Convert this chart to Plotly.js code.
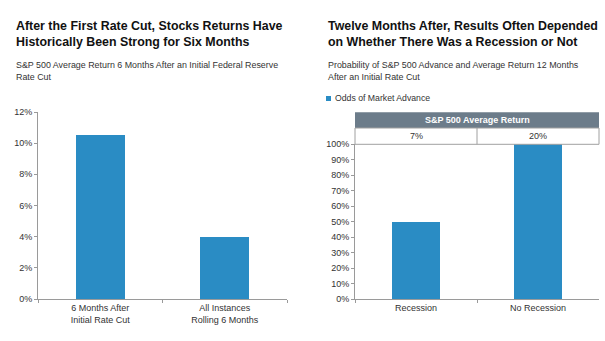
<!DOCTYPE html>
<html>
<head>
<meta charset="utf-8">
<script src="https://cdn.plot.ly/plotly-3.0.1.min.js"></script>
<style>html,body{margin:0;padding:0;background:#fff}#chart{width:605px;height:341px}</style>
</head>
<body>
<div id="chart"></div>
<script>
// ---- data ----
const leftCategories = ["6 Months After<br>Initial Rate Cut", "All Instances<br>Rolling 6 Months"];
const leftValues = [0.1055, 0.040];
const rightCategories = ["Recession", "No Recession"];
const rightValues = [0.50, 1.00];
const avgReturnLabels = ["7%", "20%"];
const rightSeriesName = "Odds of Market Advance";
const tableHeader = "S&P 500 Average Return";
const leftTitle = "After the First Rate Cut, Stocks Returns Have<br>Historically Been Strong for Six Months";
const leftSubtitle = "S&P 500 Average Return 6 Months After an Initial Federal Reserve<br>Rate Cut";
const rightTitle = "Twelve Months After, Results Often Depended<br>on Whether There Was a Recession or Not";
const rightSubtitle = "Probability of S&P 500 Advance and Average Return 12 Months<br>After an Initial Rate Cut";

// ---- layout helpers ----
const W = 605, H = 341;
const px = x => x / W;
const py = y => 1 - y / H;
const FONT = "Liberation Sans, Arial, sans-serif";
const BAR = "#2a8cc4";
const AXIS = "#9a9a9a";
const TXT = "#333333";

const traces = [
  {type: "bar", x: leftCategories, y: leftValues, xaxis: "x", yaxis: "y",
   marker: {color: BAR, line: {width: 0}}, width: 0.39, showlegend: false, hoverinfo: "skip"},
  {type: "bar", x: rightCategories, y: rightValues, xaxis: "x2", yaxis: "y2", name: rightSeriesName,
   marker: {color: BAR, line: {width: 0}}, width: 0.39, showlegend: false, hoverinfo: "skip"}
];

const axisCommon = {
  showline: true, linecolor: AXIS, linewidth: 1, showgrid: false, zeroline: false,
  ticks: "outside", ticklen: 3, tickcolor: AXIS, tickfont: {family: FONT, size: 9, color: TXT}
};

const layout = {
  width: W, height: H, margin: {l: 0, r: 0, t: 0, b: 0},
  paper_bgcolor: "#fff", plot_bgcolor: "#fff", showlegend: false, bargap: 0,
  font: {family: FONT, color: TXT},
  xaxis: Object.assign({}, axisCommon, {domain: [px(38), px(287)], anchor: "y", type: "category",
    range: [-0.5, 1.5], tickson: "boundaries"}),
  yaxis: Object.assign({}, axisCommon, {domain: [py(299), py(112)], anchor: "x",
    range: [0, 0.12], dtick: 0.02, tickformat: ".0%", tickfont: {family: FONT, size: 9, color: TXT}}),
  xaxis2: Object.assign({}, axisCommon, {domain: [px(355), px(599)], anchor: "y2", type: "category",
    range: [-0.5, 1.5], tickson: "boundaries"}),
  yaxis2: Object.assign({}, axisCommon, {domain: [py(299), py(144.3)], anchor: "x2",
    range: [0, 1], dtick: 0.1, tickformat: ".0%", tickfont: {family: FONT, size: 9, color: TXT}}),
  shapes: [
    // table header band
    {type: "rect", xref: "x2 domain", yref: "paper", x0: 0, x1: 1, y0: py(128), y1: py(112.3),
     fillcolor: "#6c7c8a", line: {width: 0}},
    // table row
    {type: "rect", xref: "x2 domain", yref: "paper", x0: 0, x1: 1, y0: py(144.3), y1: py(128),
     fillcolor: "rgba(0,0,0,0)", line: {color: "#a0a0a0", width: 1}},
    {type: "line", xref: "x2", yref: "paper", x0: 0.5, x1: 0.5, y0: py(144.3), y1: py(128),
     line: {color: "#a0a0a0", width: 1}},
    // legend swatch
    {type: "rect", xref: "paper", yref: "paper", x0: px(326), x1: px(331), y0: py(101), y1: py(96),
     fillcolor: BAR, line: {width: 0}}
  ],
  annotations: [
    {xref: "paper", yref: "paper", x: px(14), y: py(34), xanchor: "left", yanchor: "middle", align: "left",
     showarrow: false, text: "<b>" + leftTitle + "</b>", font: {family: FONT, size: 12.4, color: "#111"}},
    {xref: "paper", yref: "paper", x: px(14), y: py(70.5), xanchor: "left", yanchor: "middle", align: "left",
     showarrow: false, text: leftSubtitle, font: {family: FONT, size: 8.9, color: TXT}},
    {xref: "paper", yref: "paper", x: px(326), y: py(34), xanchor: "left", yanchor: "middle", align: "left",
     showarrow: false, text: "<b>" + rightTitle + "</b>", font: {family: FONT, size: 12.4, color: "#111"}},
    {xref: "paper", yref: "paper", x: px(326), y: py(70.5), xanchor: "left", yanchor: "middle", align: "left",
     showarrow: false, text: rightSubtitle, font: {family: FONT, size: 8.9, color: TXT}},
    {xref: "paper", yref: "paper", x: px(333), y: py(98.5), xanchor: "left", yanchor: "middle",
     showarrow: false, text: rightSeriesName, font: {family: FONT, size: 8.7, color: TXT}},
    {xref: "x2 domain", yref: "paper", x: 0.5, y: py(120.3), xanchor: "center", yanchor: "middle",
     showarrow: false, text: "<b>" + tableHeader + "</b>", font: {family: FONT, size: 9, color: "#fff"}},
    ...avgReturnLabels.map((t, i) => ({xref: "x2", yref: "paper", x: rightCategories[i], y: py(136.3),
     xanchor: "center", yanchor: "middle", showarrow: false, text: t, font: {family: FONT, size: 9, color: TXT}}))
  ]
};

Plotly.newPlot("chart", traces, layout, {staticPlot: true, displayModeBar: false});
</script>
</body>
</html>
